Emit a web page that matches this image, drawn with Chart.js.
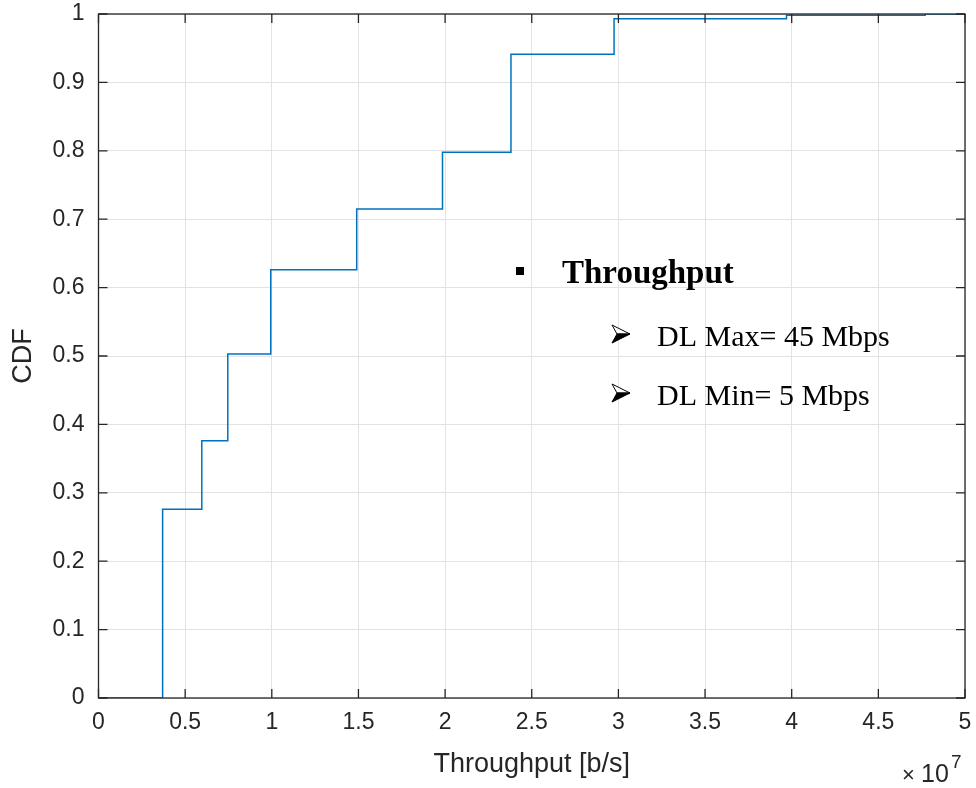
<!DOCTYPE html>
<html>
<head>
<meta charset="utf-8">
<script src="https://cdn.jsdelivr.net/npm/chart.js@4.4.1/dist/chart.umd.min.js"></script>
<style>
  html, body { margin: 0; padding: 0; background: #fff; }
  #wrap { width: 976px; height: 788px; position: relative; }
</style>
</head>
<body>
<div id="wrap"><canvas id="cdf" width="976" height="788"></canvas></div>
<script>
const throughputSteps = [0, 3.7e6, 5.96e6, 7.46e6, 9.94e6, 1.49e7, 1.985e7, 2.38e7, 2.975e7, 3.97e7, 4.77e7, 5e7];
const cdfValues = [0, 0.276, 0.376, 0.503, 0.626, 0.715, 0.798, 0.941, 0.993, 0.998, 1, 1];

const xTicks = [0, 0.5, 1, 1.5, 2, 2.5, 3, 3.5, 4, 4.5, 5];   // x 1e7
const yTicks = [0, 0.1, 0.2, 0.3, 0.4, 0.5, 0.6, 0.7, 0.8, 0.9, 1];

const noteTitle = 'Throughput';
const noteLines = ['DL Max= 45 Mbps', 'DL Min= 5 Mbps'];

const axisColor = '#262626';
const sansFont = '"Liberation Sans", Arial, sans-serif';
const serifFont = '"Liberation Serif", "DejaVu Serif", serif';

const points = throughputSteps.map((x, i) => ({ x: x, y: cdfValues[i] }));

// wordish arrow bullet, tip on the right
function arrowBullet(ctx, x, y) {
  ctx.save();
  ctx.translate(x, y);
  ctx.lineJoin = 'miter';
  ctx.lineWidth = 1;
  ctx.strokeStyle = '#000';
  // upper half, hollow
  ctx.beginPath();
  ctx.moveTo(0, -9); ctx.lineTo(18, 0); ctx.lineTo(5, 0); ctx.closePath();
  ctx.fillStyle = '#fff';
  ctx.fill(); ctx.stroke();
  // lower half, solid
  ctx.beginPath();
  ctx.moveTo(5, 0); ctx.lineTo(18, 0); ctx.lineTo(0, 9); ctx.closePath();
  ctx.fillStyle = '#000';
  ctx.fill(); ctx.stroke();
  ctx.restore();
}

// box, inward ticks, exponent and the text note
const matlabAxes = {
  id: 'matlabAxes',
  afterDraw(chart) {
    const { ctx, chartArea: a, scales } = chart;
    const xs = scales.x, ys = scales.y;
    const tl = 9;
    ctx.save();
    ctx.strokeStyle = axisColor;
    ctx.lineWidth = 1.3;
    ctx.strokeRect(a.left, a.top, a.right - a.left, a.bottom - a.top);
    ctx.beginPath();
    xTicks.forEach(t => {
      const px = xs.getPixelForValue(t * 1e7);
      ctx.moveTo(px, a.bottom); ctx.lineTo(px, a.bottom - tl);
      ctx.moveTo(px, a.top); ctx.lineTo(px, a.top + tl);
    });
    yTicks.forEach(t => {
      const py = ys.getPixelForValue(t);
      ctx.moveTo(a.left, py); ctx.lineTo(a.left + tl, py);
      ctx.moveTo(a.right, py); ctx.lineTo(a.right - tl, py);
    });
    ctx.stroke();

    // x10^7 multiplier
    ctx.fillStyle = axisColor;
    ctx.textBaseline = 'alphabetic';
    ctx.textAlign = 'left';
    ctx.font = '22px ' + sansFont;
    ctx.fillText('\u00d7', 902, 782);
    ctx.font = '25px ' + sansFont;
    ctx.fillText('10', 921, 782);
    ctx.font = '19px ' + sansFont;
    ctx.fillText('7', 951, 768);

    // note
    ctx.fillStyle = '#000';
    ctx.font = 'bold 33px ' + serifFont;
    ctx.fillText(noteTitle, 562, 283);
    ctx.fillRect(516, 267, 8, 8);
    ctx.font = '30px ' + serifFont;
    noteLines.forEach((s, i) => {
      const by = 346 + i * 59;
      ctx.fillText(s, 657, by);
      arrowBullet(ctx, 612, by - 12);
    });
    ctx.restore();
  }
};

new Chart(document.getElementById('cdf'), {
  type: 'scatter',
  data: {
    datasets: [{
      label: 'CDF',
      data: points,
      showLine: true,
      stepped: 'before',
      borderColor: '#0072BD',
      borderWidth: 1.5,
      pointRadius: 0,
      fill: false
    }]
  },
  options: {
    responsive: false,
    animation: false,
    layout: { padding: { top: 14, right: 11, left: 0, bottom: 0 } },
    plugins: {
      legend: { display: false },
      tooltip: { enabled: false }
    },
    scales: {
      x: {
        type: 'linear',
        min: 0,
        max: 5e7,
        afterBuildTicks(scale) {
          scale.ticks = xTicks.map(v => ({ value: v * 1e7 }));
        },
        afterFit(scale) {
          scale.height = 90;
          scale.paddingLeft = 0;
          scale.paddingRight = 0;
        },
        ticks: {
          color: axisColor,
          font: { family: sansFont, size: 23 },
          padding: 11,
          maxRotation: 0,
          callback: v => String(+(v / 1e7).toFixed(1))
        },
        grid: { color: '#e3e3e3', lineWidth: 1, drawTicks: false },
        border: { display: false },
        title: {
          display: true,
          text: 'Throughput [b/s]',
          color: axisColor,
          font: { family: sansFont, size: 27 },
          padding: { top: 0, bottom: 7 }
        }
      },
      y: {
        min: 0,
        max: 1,
        afterBuildTicks(scale) {
          scale.ticks = yTicks.map(v => ({ value: v }));
        },
        afterFit(scale) {
          scale.width = 98.5;
          scale.paddingTop = 0;
          scale.paddingBottom = 0;
        },
        ticks: {
          color: axisColor,
          font: { family: sansFont, size: 23 },
          padding: 14,
          callback: v => String(+v.toFixed(1))
        },
        grid: { color: '#e3e3e3', lineWidth: 1, drawTicks: false },
        border: { display: false },
        title: {
          display: true,
          text: 'CDF',
          color: axisColor,
          font: { family: sansFont, size: 27 },
          padding: { top: 7, bottom: 0 }
        }
      }
    }
  },
  plugins: [matlabAxes]
});
</script>
</body>
</html>
